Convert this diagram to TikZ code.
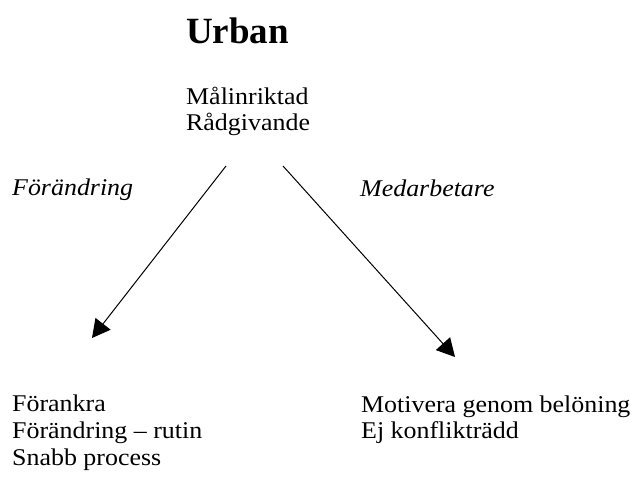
\documentclass[tikz,border=0pt]{standalone}
\usepackage{fontspec}
\setmainfont{Liberation Serif}[FakeStretch=1.08]
\newfontfamily\headfont{Liberation Serif}
\usetikzlibrary{arrows.meta}
\begin{document}
\begin{tikzpicture}[x=1pt,y=-1pt,
  txt/.style={anchor=base west,inner sep=0pt,font=\fontsize{24}{26}\selectfont},
  lbl/.style={anchor=base west,inner sep=0pt,font=\fontsize{24}{26}\selectfont\itshape},
  ttl/.style={anchor=base west,inner sep=0pt,font=\headfont\fontsize{37}{40}\selectfont\bfseries},
  conn/.style={line width=1pt,-{Triangle[length=18pt,width=19pt]}}]
\useasboundingbox (0,0) rectangle (637,477);
% heading and its two qualities
\node[ttl] (title) at (186,43) {Urban};
\node[txt] (q1) at (186,104) {Målinriktad};
\node[txt] (q2) at (186,130) {Rådgivande};
% branch labels
\node[lbl] (lblL) at (12,195) {Förändring};
\node[lbl] (lblR) at (360,196) {Medarbetare};
% arrow ends
\coordinate (sL) at (226,166);
\coordinate (eL) at (92,338);
\coordinate (sR) at (283,166);
\coordinate (eR) at (455,357);
\draw[conn] (sL) -- (eL);
\draw[conn] (sR) -- (eR);
% left list
\node[txt] (l1) at (12,411) {Förankra};
\node[txt] (l2) at (12,438) {Förändring – rutin};
\node[txt] (l3) at (12,465) {Snabb process};
% right list
\node[txt] (r1) at (361,412) {Motivera genom belöning};
\node[txt] (r2) at (361,438) {Ej konflikträdd};
\end{tikzpicture}
\end{document}
